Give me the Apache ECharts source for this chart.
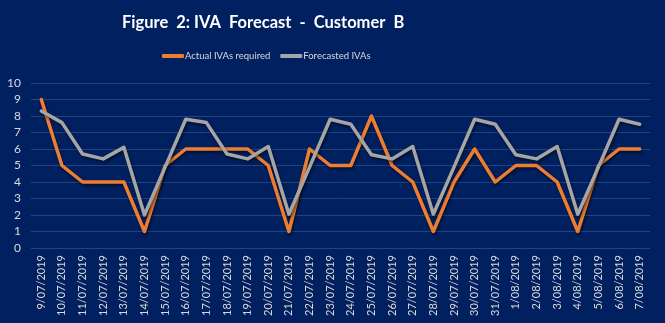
<!DOCTYPE html>
<html>
<head>
<meta charset="utf-8">
<script src="https://cdn.jsdelivr.net/npm/echarts@6/dist/echarts.min.js"></script>
<style>
  html, body { margin: 0; padding: 0; background: #002060; }
  #chart { width: 665px; height: 323px; }
</style>
</head>
<body>
<div id="chart"></div>
<script>
// Daily dates shown on the category axis
const dates = [
  '9/07/2019', '10/07/2019', '11/07/2019', '12/07/2019', '13/07/2019', '14/07/2019', '15/07/2019',
  '16/07/2019', '17/07/2019', '18/07/2019', '19/07/2019', '20/07/2019', '21/07/2019', '22/07/2019',
  '23/07/2019', '24/07/2019', '25/07/2019', '26/07/2019', '27/07/2019', '28/07/2019', '29/07/2019',
  '30/07/2019', '31/07/2019', '1/08/2019', '2/08/2019', '3/08/2019', '4/08/2019', '5/08/2019',
  '6/08/2019', '7/08/2019'
];

// IVAs actually required each day
const actualIVAs = [
  9, 5, 4, 4, 4, 1, 5,
  6, 6, 6, 6, 5, 1, 6,
  5, 5, 8, 5, 4, 1, 4,
  6, 4, 5, 5, 4, 1, 5,
  6, 6
];

// Forecasted IVAs per day
const forecastIVAs = [
  8.3, 7.6, 5.7, 5.4, 6.1, 2.0, 4.9,
  7.8, 7.6, 5.7, 5.4, 6.15, 2.05, 4.9,
  7.8, 7.5, 5.65, 5.4, 6.15, 2.05, 4.9,
  7.8, 7.5, 5.65, 5.4, 6.15, 2.05, 4.9,
  7.8, 7.5
];

const yTicks = { min: 0, max: 10, interval: 1 };

const labelColor = '#d9d9d9';
const fontFamily = 'Lato, "Open Sans", sans-serif';

const chart = echarts.init(document.getElementById('chart'));

const lineShadow = {
  shadowColor: 'rgba(0,0,0,0.55)',
  shadowBlur: 3,
  shadowOffsetX: 1,
  shadowOffsetY: 2
};

chart.setOption({
  backgroundColor: '#002060',
  animation: false,
  title: {
    text: 'Figure  2: IVA  Forecast  -  Customer  B',
    left: 122,
    top: 14,
    padding: 0,
    textStyle: {
      color: '#ffffff',
      fontFamily: 'Lato, sans-serif',
      fontWeight: 'bold',
      fontSize: 16.5
    }
  },
  legend: {
    left: 162,
    top: 51,
    padding: 0,
    itemWidth: 22,
    itemHeight: 4,
    itemGap: 10,
    icon: 'roundRect',
    textStyle: {
      color: labelColor,
      fontFamily: fontFamily,
      fontSize: 9.5,
      padding: [0, 0, 0, -4]
    },
    data: ['Actual IVAs required', 'Forecasted IVAs']
  },
  grid: {
    left: 31,
    right: 15,
    top: 83,
    bottom: 75,
    containLabel: false
  },
  xAxis: {
    type: 'category',
    data: dates,
    boundaryGap: true,
    axisLine: { show: false },
    axisTick: { show: false },
    axisLabel: {
      rotate: 90,
      interval: 0,
      color: labelColor,
      fontFamily: fontFamily,
      fontSize: 11,
      margin: 7
    }
  },
  yAxis: {
    type: 'value',
    min: yTicks.min,
    max: yTicks.max,
    interval: yTicks.interval,
    axisLine: { show: false },
    axisTick: { show: false },
    axisLabel: {
      color: labelColor,
      fontFamily: fontFamily,
      fontSize: 12,
      margin: 10
    },
    splitLine: {
      lineStyle: { color: '#24427c', width: 1 }
    }
  },
  series: [
    {
      name: 'Actual IVAs required',
      type: 'line',
      data: actualIVAs,
      symbol: 'none',
      color: '#ED7D31',
      lineStyle: Object.assign({ color: '#ED7D31', width: 3.5, join: 'round', cap: 'round' }, lineShadow),
      z: 2
    },
    {
      name: 'Forecasted IVAs',
      type: 'line',
      data: forecastIVAs,
      symbol: 'none',
      color: '#A5A5A5',
      lineStyle: Object.assign({ color: '#A5A5A5', width: 3.5, join: 'round', cap: 'round' }, lineShadow),
      z: 3
    }
  ]
});
</script>
</body>
</html>
